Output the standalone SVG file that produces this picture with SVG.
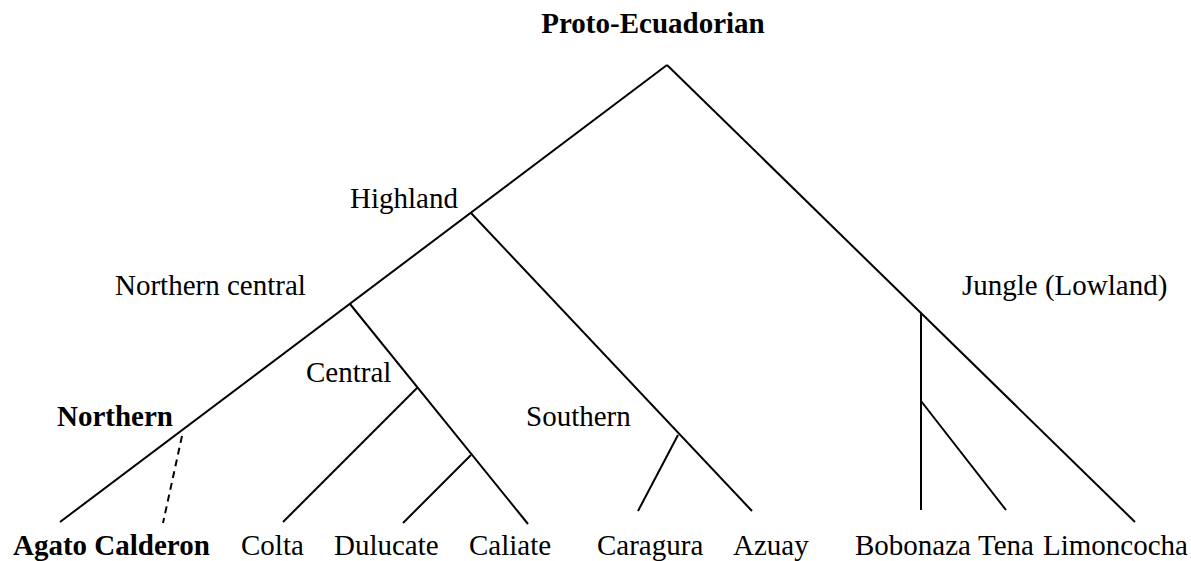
<svg xmlns="http://www.w3.org/2000/svg" width="1191" height="561" viewBox="0 0 1191 561">
<style>
text{font-family:"Liberation Serif","Times New Roman",serif;font-size:29px;fill:#000}
.b{font-weight:bold}
.e{stroke:#000;stroke-width:2;fill:none;stroke-linecap:butt}
.d{stroke-dasharray:7,5}
</style>
<rect width="1191" height="561" fill="#fff"/>
<g id="connectors">
<line class="e" x1="667" y1="65" x2="60" y2="522"/>
<line class="e" x1="667" y1="65" x2="1135" y2="522"/>
<line class="e" x1="471" y1="213" x2="752" y2="511"/>
<line class="e" x1="678" y1="435" x2="638" y2="511"/>
<line class="e" x1="350" y1="304" x2="528" y2="524"/>
<line class="e" x1="417" y1="388" x2="283" y2="522"/>
<line class="e" x1="471" y1="455" x2="403" y2="523"/>
<line class="e d" x1="182" y1="436" x2="163" y2="523"/>
<line class="e" x1="921" y1="313" x2="921" y2="510"/>
<line class="e" x1="921" y1="401" x2="1006" y2="510"/>
</g>
<g id="proto"><text class="b" x="653" y="33" text-anchor="middle">Proto-Ecuadorian</text></g>
<g id="highland"><text x="350" y="208">Highland</text></g>
<g id="northern-central"><text x="115" y="295">Northern central</text></g>
<g id="central"><text x="306" y="382">Central</text></g>
<g id="northern"><text class="b" x="57" y="426">Northern</text></g>
<g id="southern"><text x="526" y="426">Southern</text></g>
<g id="jungle"><text x="962" y="295">Jungle (Lowland)</text></g>
<g id="agato"><text class="b" x="13" y="555">Agato Calderon</text></g>
<g id="colta"><text x="241" y="555">Colta</text></g>
<g id="dulucate"><text x="334" y="555">Dulucate</text></g>
<g id="caliate"><text x="469" y="555">Caliate</text></g>
<g id="caragura"><text x="597" y="555">Caragura</text></g>
<g id="azuay"><text x="733" y="555">Azuay</text></g>
<g id="bobonaza"><text x="855" y="555">Bobonaza</text></g>
<g id="tena"><text x="978" y="555">Tena</text></g>
<g id="limoncocha"><text x="1043" y="555">Limoncocha</text></g>
</svg>
